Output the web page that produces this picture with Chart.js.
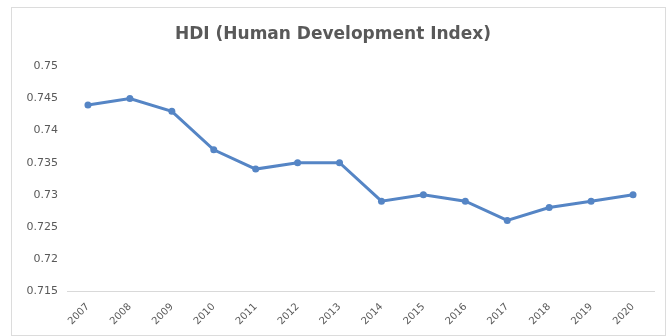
<!DOCTYPE html>
<html>
<head>
<meta charset="utf-8">
<script src="https://cdn.jsdelivr.net/npm/chart.js@4/dist/chart.umd.min.js"></script>
<style>
  body { margin: 0; background: #fff; }
  #wrap {
    position: absolute; left: 11px; top: 7px;
    width: 655px; height: 329px;
    border: 1px solid #dcdcdc; box-sizing: border-box;
  }
</style>
</head>
<body>
<div id="wrap"><canvas id="hdi"></canvas></div>
<script>
// HDI by year
const years = ['2007','2008','2009','2010','2011','2012','2013','2014','2015','2016','2017','2018','2019','2020'];
const hdiValues = [0.744, 0.745, 0.743, 0.737, 0.734, 0.735, 0.735, 0.729, 0.730, 0.729, 0.726, 0.728, 0.729, 0.730];
const yMin = 0.715, yMax = 0.75, yStep = 0.005;

const lineBlue = '#5585c5';
const textGrey = '#595959';
const fontFamily = '"DejaVu Sans", sans-serif';

var ctx = document.getElementById('hdi');
var hdiChart = new Chart(ctx, {
    type: 'line',
    data: {
        labels: years,
        datasets: [{
            data: hdiValues,
            borderColor: lineBlue,
            backgroundColor: lineBlue,
            borderWidth: 3,
            pointRadius: 3.5,
            pointBorderWidth: 0,
            tension: 0
        }]
    },
    options: {
        responsive: true,
        maintainAspectRatio: false,
        animation: false,
        layout: { padding: { left: 0, right: 11, top: 16, bottom: 0 } },
        plugins: {
            legend: { display: false },
            tooltip: { enabled: false },
            title: {
                display: true,
                text: 'HDI (Human Development Index)',
                color: textGrey,
                font: { family: fontFamily, size: 17, weight: 'bold' },
                padding: { top: 0, bottom: 22 }
            }
        },
        scales: {
            x: {
                offset: true,
                grid: { display: false },
                border: { display: true, color: '#d9d9d9', width: 1 },
                ticks: {
                    color: textGrey,
                    font: { family: fontFamily, size: 10 },
                    minRotation: 45,
                    maxRotation: 45,
                    padding: 2
                },
                afterFit: function(scale) { scale.height = 44; }
            },
            y: {
                min: yMin,
                max: yMax,
                grid: { display: false },
                border: { display: false },
                ticks: {
                    stepSize: yStep,
                    color: textGrey,
                    font: { family: fontFamily, size: 11 },
                    padding: 1,
                    callback: function(v) { return String(+v.toFixed(3)); }
                },
                afterFit: function(scale) { scale.width = 55; }
            }
        }
    }
});
</script>
</body>
</html>
